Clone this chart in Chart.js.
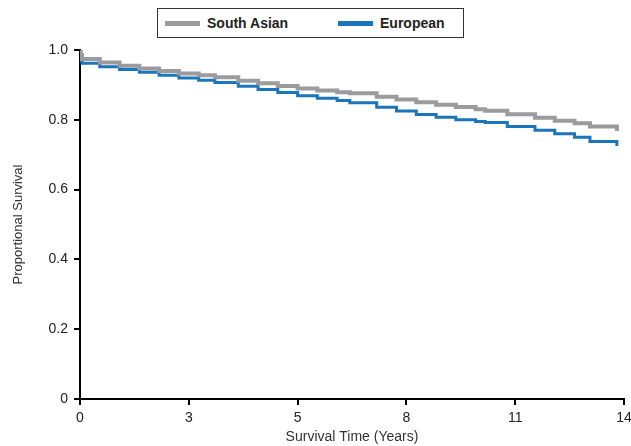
<!DOCTYPE html>
<html>
<head>
<meta charset="utf-8">
<script src="https://cdn.jsdelivr.net/npm/chart.js@4/dist/chart.umd.min.js"></script>
<style>
    body { margin: 0; background: #fff; font-family: "Liberation Sans", Arial, sans-serif; }
    #wrap { position: relative; width: 631px; height: 446px; }
    #legend {
        position: absolute; left: 157px; top: 8px; width: 305px; height: 28px;
        border: 1px solid #333; background: #fff;
        font-weight: bold; font-size: 14px; color: #222;
    }
    .item { position: absolute; top: 0; height: 28px; line-height: 28px; white-space: nowrap; }
    .swatch { display: inline-block; width: 35px; height: 5px; vertical-align: middle; margin-right: 7px; margin-top: -2px; }
</style>
</head>
<body>
<div id="wrap">
    <canvas id="survivalChart" width="631" height="446"></canvas>
    <div id="legend"></div>
</div>
<script>
// Kaplan-Meier estimates (time in years)
const seriesNames = ['South Asian', 'European'];
const seriesColors = ['#9b9b9d', '#1b75bb'];

const southAsianTime = [0, 0.02, 0.05, 0.5, 1, 1.5, 2, 2.5, 3, 3.41, 4, 4.5, 5, 5.5, 6, 6.5, 6.82, 7.5, 8, 8.5, 9, 9.5, 10, 10.24, 10.8, 11.5, 12, 12.5, 12.89, 13.57];
const southAsianSurv = [1.0, 0.985, 0.974, 0.964, 0.955, 0.947, 0.940, 0.933, 0.928, 0.922, 0.912, 0.905, 0.897, 0.890, 0.884, 0.879, 0.876, 0.866, 0.858, 0.850, 0.843, 0.837, 0.830, 0.826, 0.816, 0.806, 0.797, 0.790, 0.781, 0.768];

const europeanTime = [0, 0.05, 0.5, 1, 1.5, 2, 2.5, 3, 3.41, 4, 4.5, 5, 5.5, 6, 6.5, 6.82, 7.5, 8, 8.5, 9, 9.5, 10, 10.24, 10.8, 11.5, 12, 12.5, 12.89, 13.57];
const europeanSurv = [0.970, 0.962, 0.952, 0.944, 0.936, 0.928, 0.920, 0.913, 0.907, 0.896, 0.887, 0.878, 0.869, 0.862, 0.855, 0.849, 0.836, 0.825, 0.815, 0.807, 0.800, 0.795, 0.792, 0.781, 0.770, 0.760, 0.750, 0.738, 0.725];

const xTickLabels = ['0', '3', '5', '8', '11', '14'];
const yTickLabels = ['0', '0.2', '0.4', '0.6', '0.8', '1.0'];

const toPoints = (t, s) => t.map((x, i) => ({ x: x, y: s[i] }));

// html legend
const legend = document.getElementById('legend');
const itemLeft = [7, 180];
seriesNames.forEach((name, i) => {
    const el = document.createElement('div');
    el.className = 'item';
    el.style.left = itemLeft[i] + 'px';
    el.innerHTML = `<span class="swatch" style="background:${seriesColors[i]}"></span>${name}`;
    legend.appendChild(el);
});

const font = { family: '"Liberation Sans", Arial, sans-serif', size: 14 };

new Chart(document.getElementById('survivalChart'), {
    type: 'line',
    data: {
        datasets: [{
            label: seriesNames[0],
            data: toPoints(southAsianTime, southAsianSurv),
            borderColor: seriesColors[0],
            borderWidth: 4,
            stepped: true,
            pointRadius: 0
        }, {
            label: seriesNames[1],
            data: toPoints(europeanTime, europeanSurv),
            borderColor: seriesColors[1],
            borderWidth: 3,
            stepped: true,
            pointRadius: 0
        }]
    },
    options: {
        responsive: false,
        animation: false,
        layout: { padding: { top: 50, right: 7, left: 11, bottom: 0 } },
        plugins: {
            legend: { display: false },
            tooltip: { enabled: false }
        },
        scales: {
            x: {
                type: 'linear',
                min: 0,
                max: 13.75,
                afterBuildTicks: (scale) => {
                    scale.ticks = xTickLabels.map((_, i) => ({ value: i * 2.75 }));
                },
                afterFit: (scale) => {
                    scale.height = 47;
                    scale.paddingLeft = 0;
                    scale.paddingRight = 0;
                },
                ticks: {
                    color: '#222',
                    font: font,
                    padding: 5,
                    maxRotation: 0,
                    callback: (v, i) => xTickLabels[i]
                },
                grid: { drawOnChartArea: false, color: '#000', lineWidth: 2, tickLength: 6 },
                border: { color: '#000', width: 2 },
                title: {
                    display: true,
                    text: 'Survival Time (Years)',
                    color: '#333',
                    font: font,
                    padding: { top: 0, bottom: 0 }
                }
            },
            y: {
                min: 0,
                max: 1,
                afterBuildTicks: (scale) => {
                    scale.ticks = yTickLabels.map((_, i) => ({ value: i * 0.2 }));
                },
                afterFit: (scale) => { scale.width = 69; },
                ticks: {
                    color: '#222',
                    font: font,
                    padding: 6,
                    callback: (v, i) => yTickLabels[i]
                },
                grid: { drawOnChartArea: false, color: '#000', lineWidth: 2, tickLength: 6 },
                border: { color: '#000', width: 2 },
                title: {
                    display: true,
                    text: 'Proportional Survival',
                    color: '#333',
                    font: { family: font.family, size: 13 },
                    padding: { top: 0, bottom: 2 }
                }
            }
        }
    }
});
</script>
</body>
</html>
